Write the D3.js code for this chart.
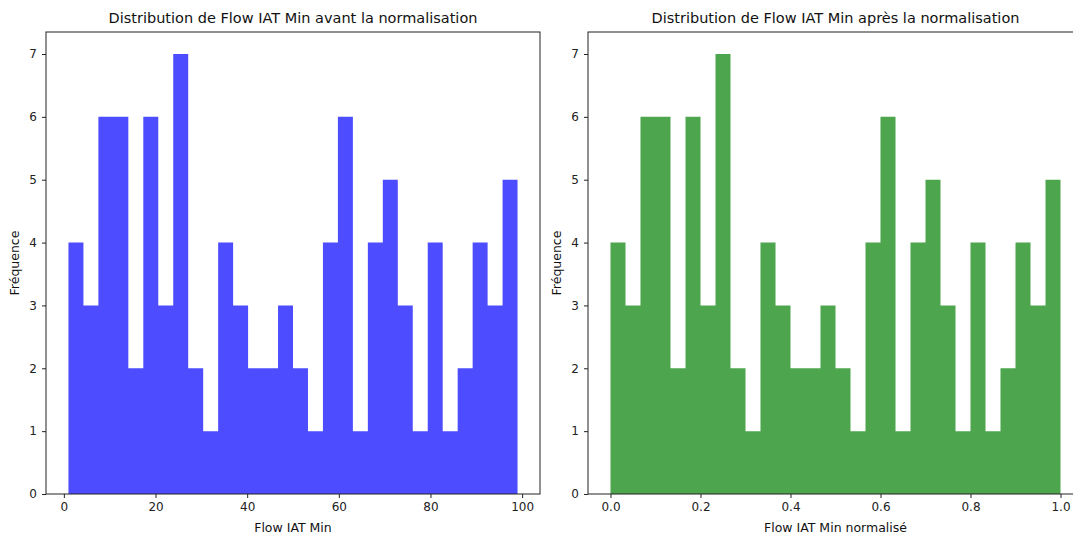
<!DOCTYPE html>
<html>
<head>
<meta charset="utf-8">
<script src="https://cdn.jsdelivr.net/npm/d3@7"></script>
<style>
  html, body { margin: 0; padding: 0; background: #fff; }
  svg { display: block; font-family: "DejaVu Sans", sans-serif; }
</style>
</head>
<body>
<svg id="chart" width="1073" height="536"></svg>
<script>
// ---- Data ----
const counts = [4, 3, 6, 6, 2, 6, 3, 7, 2, 1, 4, 3, 2, 2, 3, 2, 1, 4, 6, 1, 4, 5, 3, 1, 4, 1, 2, 4, 3, 5];
const rawRange = [1, 99];
const normRange = [0, 1];
const rawTicks = [0, 20, 40, 60, 80, 100];
const normTicks = [0.0, 0.2, 0.4, 0.6, 0.8, 1.0];
const yTicks = [0, 1, 2, 3, 4, 5, 6, 7];
const titles = ["Distribution de Flow IAT Min avant la normalisation", "Distribution de Flow IAT Min après la normalisation"];
const xLabels = ["Flow IAT Min", "Flow IAT Min normalisé"];
const yLabel = "Fréquence";
// blue / green at alpha 0.7 over white
const colors = ["#4d4dff", "#4da64d"];

const svg = d3.select("#chart");

function panel(opts) {
  const { left, top, width, height, range, ticks, fmt, color, title, xlabel } = opts;
  const span = range[1] - range[0];
  const x = d3.scaleLinear().domain([range[0] - 0.05 * span, range[1] + 0.05 * span]).range([left, left + width]);
  const yMax = d3.max(counts);
  const y = d3.scaleLinear().domain([0, yMax * 1.05]).range([top + height, top]);
  const n = counts.length;
  const bw = span / n;
  const bins = counts.map((c, i) => ({ x0: range[0] + i * bw, x1: range[0] + (i + 1) * bw, c }));

  const g = svg.append("g");
  const clipId = "clip" + Math.round(left);
  svg.append("clipPath").attr("id", clipId).append("rect")
    .attr("x", left).attr("y", top).attr("width", width).attr("height", height);

  // bars as one step-shaped area so adjacent bins have no seams
  const pts = [];
  bins.forEach(b => { pts.push([b.x0, b.c]); pts.push([b.x1, b.c]); });
  const area = d3.area().x(d => x(d[0])).y0(y(0)).y1(d => y(d[1]));
  g.append("g").attr("clip-path", `url(#${clipId})`)
    .append("path").datum(pts).attr("d", area).attr("fill", color);

  // frame
  g.append("rect").attr("x", left).attr("y", top).attr("width", width).attr("height", height)
    .attr("fill", "none").attr("stroke", "#222").attr("stroke-width", 1);

  const xAxis = g.append("g").attr("transform", `translate(0,${top + height})`)
    .call(d3.axisBottom(x).tickValues(ticks).tickFormat(fmt).tickSize(4).tickPadding(4));
  xAxis.select(".domain").remove();
  const yAxis = g.append("g").attr("transform", `translate(${left},0)`)
    .call(d3.axisLeft(y).tickValues(yTicks).tickFormat(d3.format("d")).tickSize(4).tickPadding(5));
  yAxis.select(".domain").remove();
  g.selectAll(".tick text").attr("font-size", 12).attr("fill", "#222").attr("font-family", "DejaVu Sans, sans-serif");
  g.selectAll(".tick line").attr("stroke", "#222");

  g.append("text").attr("x", left + width / 2).attr("y", top - 9)
    .attr("text-anchor", "middle").attr("font-size", 14.5).attr("fill", "#111").text(title);
  g.append("text").attr("x", left + width / 2).attr("y", top + height + 38)
    .attr("text-anchor", "middle").attr("font-size", 12.5).attr("fill", "#111").text(xlabel);
  g.append("text").attr("transform", `translate(${left - 27},${top + height / 2}) rotate(-90)`)
    .attr("text-anchor", "middle").attr("font-size", 12.5).attr("fill", "#111").text(yLabel);
}

panel({ left: 46, top: 32, width: 494, height: 462, range: rawRange, ticks: rawTicks,
        fmt: d3.format("d"), color: colors[0], title: titles[0], xlabel: xLabels[0] });
panel({ left: 588, top: 32, width: 495, height: 462, range: normRange, ticks: normTicks,
        fmt: d3.format(".1f"), color: colors[1], title: titles[1], xlabel: xLabels[1] });
</script>
</body>
</html>
